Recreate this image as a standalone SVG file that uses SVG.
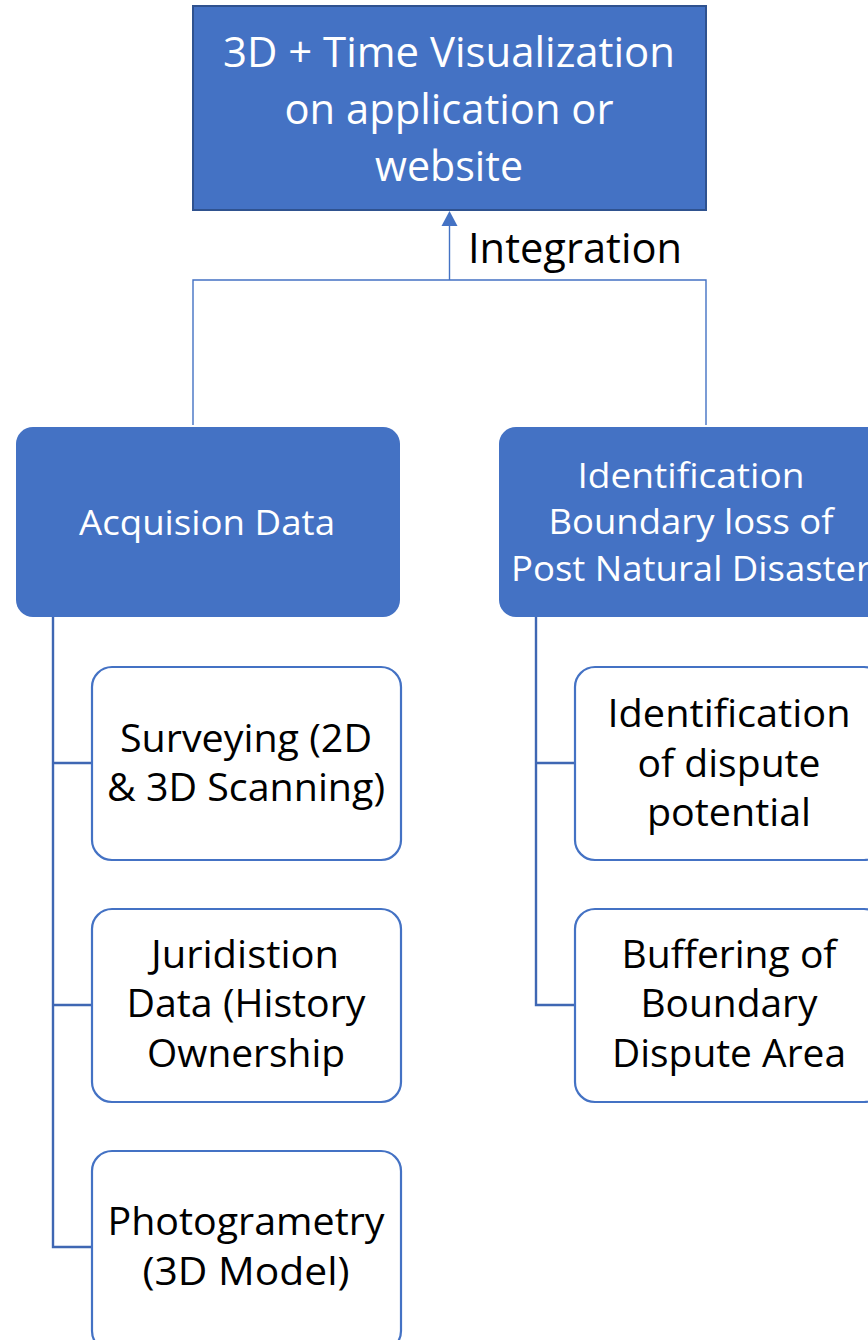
<svg xmlns="http://www.w3.org/2000/svg" width="868" height="1340" viewBox="0 0 868 1340">
<defs>
<style>
.t{font-family:"Open Sans","Liberation Sans",sans-serif;text-anchor:middle}
.w{fill:#ffffff}
.k{fill:#000000}
.blue{fill:#4472C4}
.child{fill:#ffffff;stroke:#4472C4;stroke-width:2.2}
.thin{fill:none;stroke:#4472C4;stroke-width:1.4}
.thick{fill:none;stroke:#3F67B3;stroke-width:2.4}
</style>
<marker id="arr" markerUnits="userSpaceOnUse" markerWidth="16" markerHeight="16" viewBox="0 0 16 16" refX="8" refY="1" orient="auto-start-reverse">
<path d="M8 0 L16 15 L0 15 Z" fill="#4472C4"/>
</marker>
</defs>
<rect width="868" height="1340" fill="#ffffff"/>
<g id="connectors">
<path class="thin" d="M193 425 V280 H706 V425"/>
<path class="thin" d="M449.5 280 V226"/>
<path d="M449.5 211 L457.5 226 L441.5 226 Z" fill="#4472C4"/>
<path class="thick" d="M53 617 V1247 H92 M53 763 H92 M53 1005 H92"/>
<path class="thick" d="M536 617 V1005 H575 M536 763 H575"/>
</g>
<g id="top">
<rect x="193" y="6" width="513" height="204" class="blue" stroke="#2F528F" stroke-width="2"/>
<text class="t w" font-size="42" x="449" y="67" textLength="452" lengthAdjust="spacingAndGlyphs">3D + Time Visualization</text>
<text class="t w" font-size="42" x="449" y="124" textLength="329" lengthAdjust="spacingAndGlyphs">on application or</text>
<text class="t w" font-size="42" x="449" y="181" textLength="148" lengthAdjust="spacingAndGlyphs">website</text>
</g>
<g id="label-integration">
<text class="t k" font-size="42" x="575" y="263" textLength="214" lengthAdjust="spacingAndGlyphs">Integration</text>
</g>
<g id="acquisition">
<rect x="16" y="427" width="384" height="190" rx="17" class="blue"/>
<text class="t w" font-size="35" x="207" y="535" textLength="256" lengthAdjust="spacingAndGlyphs">Acquision Data</text>
</g>
<g id="identification">
<rect x="499" y="427" width="384" height="190" rx="17" class="blue"/>
<text class="t w" font-size="35" x="691" y="488" textLength="227" lengthAdjust="spacingAndGlyphs">Identification</text>
<text class="t w" font-size="35" x="691" y="534" textLength="285" lengthAdjust="spacingAndGlyphs">Boundary loss of</text>
<text class="t w" font-size="35" x="691" y="581" textLength="360" lengthAdjust="spacingAndGlyphs">Post Natural Disaster</text>
</g>
<g id="surveying">
<rect x="92" y="667" width="309" height="193" rx="20" class="child"/>
<text class="t k" font-size="38" x="246" y="752" textLength="252" lengthAdjust="spacingAndGlyphs">Surveying (2D</text>
<text class="t k" font-size="38" x="246" y="801" textLength="278" lengthAdjust="spacingAndGlyphs">&amp; 3D Scanning)</text>
</g>
<g id="juridistion">
<rect x="92" y="909" width="309" height="193" rx="20" class="child"/>
<text class="t k" font-size="38" x="245" y="968" textLength="188" lengthAdjust="spacingAndGlyphs">Juridistion</text>
<text class="t k" font-size="38" x="246" y="1017" textLength="239" lengthAdjust="spacingAndGlyphs">Data (History</text>
<text class="t k" font-size="38" x="246" y="1067" textLength="198" lengthAdjust="spacingAndGlyphs">Ownership</text>
</g>
<g id="photogrametry">
<rect x="92" y="1151" width="309" height="200" rx="20" class="child"/>
<text class="t k" font-size="38" x="246" y="1235" textLength="277" lengthAdjust="spacingAndGlyphs">Photogrametry</text>
<text class="t k" font-size="38" x="246" y="1285" textLength="207" lengthAdjust="spacingAndGlyphs">(3D Model)</text>
</g>
<g id="dispute-potential">
<rect x="575" y="667" width="309" height="193" rx="20" class="child"/>
<text class="t k" font-size="38" x="729" y="727" textLength="243" lengthAdjust="spacingAndGlyphs">Identification</text>
<text class="t k" font-size="38" x="729" y="777" textLength="183" lengthAdjust="spacingAndGlyphs">of dispute</text>
<text class="t k" font-size="38" x="729" y="826" textLength="164" lengthAdjust="spacingAndGlyphs">potential</text>
</g>
<g id="buffering">
<rect x="575" y="909" width="309" height="193" rx="20" class="child"/>
<text class="t k" font-size="38" x="729" y="968" textLength="215" lengthAdjust="spacingAndGlyphs">Buffering of</text>
<text class="t k" font-size="38" x="729" y="1017" textLength="177" lengthAdjust="spacingAndGlyphs">Boundary</text>
<text class="t k" font-size="38" x="729" y="1067" textLength="234" lengthAdjust="spacingAndGlyphs">Dispute Area</text>
</g>
</svg>
